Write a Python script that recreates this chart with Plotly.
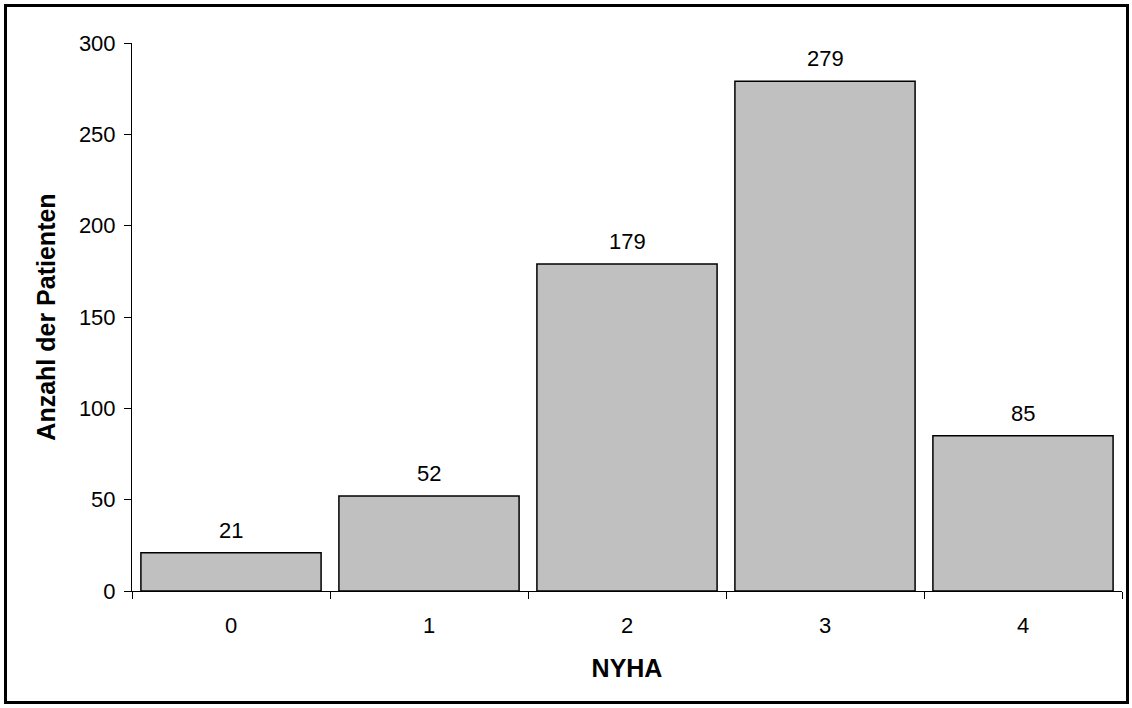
import plotly.graph_objects as go

# NYHA class distribution of the patient cohort
nyha_classes = ["0", "1", "2", "3", "4"]
patient_counts = [21, 52, 179, 279, 85]
y_ticks = [0, 50, 100, 150, 200, 250, 300]

W, H = 1132, 708
M_L, M_R, M_T, M_B = 132, 10, 43, 117
FONT = "Liberation Sans, Arial, sans-serif"
TICK_SIZE = 22
TITLE_SIZE = 25

fig = go.Figure(
    go.Bar(
        x=nyha_classes,
        y=patient_counts,
        marker=dict(color="#C0C0C0", line=dict(color="#000000", width=1.5)),
        hoverinfo="x+y",
    )
)

# value labels above each bar
for cls, val in zip(nyha_classes, patient_counts):
    fig.add_annotation(
        x=cls, y=val, text=str(val), showarrow=False,
        yanchor="bottom", yshift=8,
        font=dict(family=FONT, size=TICK_SIZE, color="#000000"),
    )

# outer frame around the whole chart
pw, ph = W - M_L - M_R, H - M_T - M_B
def px_x(p):
    return (p - M_L) / pw
def px_y(p):
    return (H - M_B - p) / ph

fig.add_shape(
    type="rect", xref="paper", yref="paper",
    x0=px_x(5.5), x1=px_x(1127.5), y0=px_y(5.5), y1=px_y(702.5),
    line=dict(color="#000000", width=3), fillcolor="rgba(0,0,0,0)", layer="below",
)

fig.update_layout(
    width=W, height=H,
    margin=dict(l=M_L, r=M_R, t=M_T, b=M_B),
    paper_bgcolor="#FFFFFF", plot_bgcolor="#FFFFFF",
    bargap=0.09,
    showlegend=False,
    font=dict(family=FONT, size=TICK_SIZE, color="#000000"),
    xaxis=dict(
        type="category",
        tickson="boundaries",
        ticks="outside", ticklen=7, tickcolor="#000000", tickwidth=1,
        showline=True, linecolor="#000000", linewidth=1,
        showgrid=False, zeroline=False,
        ticklabelstandoff=15,
        tickfont=dict(family=FONT, size=TICK_SIZE),
        title=dict(text="<b>NYHA</b>", font=dict(family=FONT, size=TITLE_SIZE), standoff=22),
    ),
    yaxis=dict(
        range=[0, 300],
        tickvals=y_ticks,
        ticks="outside", ticklen=7, tickcolor="#000000", tickwidth=1,
        showline=True, linecolor="#000000", linewidth=1,
        showgrid=False, zeroline=False,
        ticklabelstandoff=4,
        tickfont=dict(family=FONT, size=TICK_SIZE),
        title=dict(text="<b>Anzahl der Patienten</b>", font=dict(family=FONT, size=TITLE_SIZE), standoff=16),
    ),
)

fig.write_html("out.html")
